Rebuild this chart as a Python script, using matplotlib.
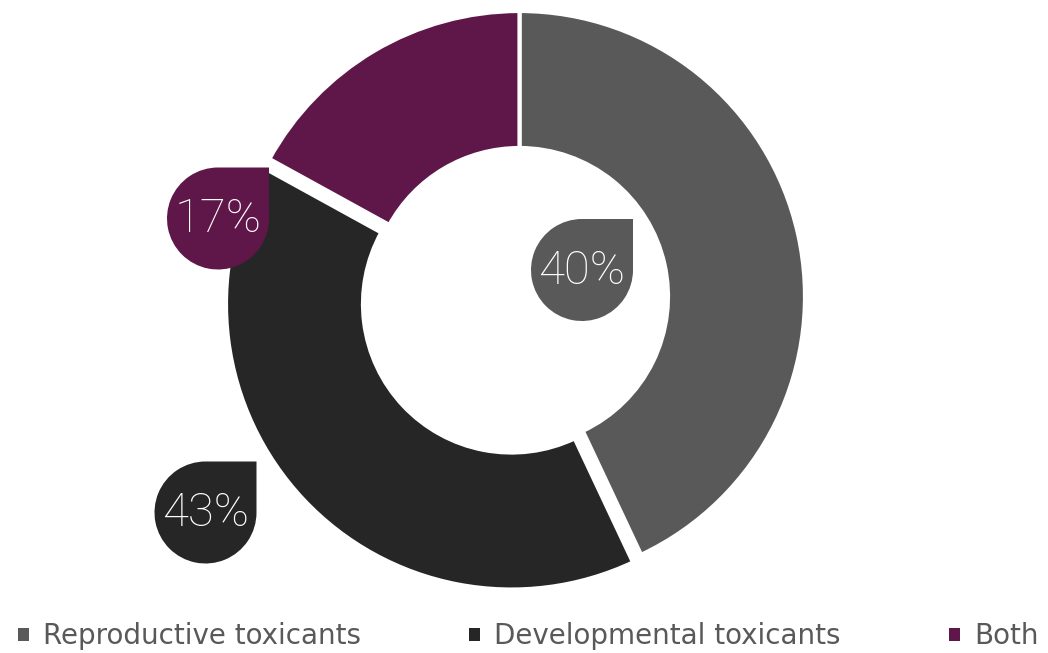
import matplotlib.pyplot as plt
from matplotlib.path import Path
from matplotlib.patches import PathPatch, Patch

# datos del grafico (tamano de los sectores)
labels = ["Reproductive toxicants", "Developmental toxicants", "Both"]
values = [43, 40, 17]
pct_labels = ["40%", "43%", "17%"]  # etiquetas tal como aparecen
colors = ["#595959", "#262626", "#5f174a"]
explode = [0, 11, 0]

W, H = 1048, 653
fig = plt.figure(figsize=(W / 100, H / 100), dpi=100)
ax = fig.add_axes([0, 0, 1, 1])

ax.pie(values, colors=colors, startangle=90, counterclock=False,
       radius=285.5, center=(519.5, H - 296.5), explode=explode,
       wedgeprops=dict(width=137, edgecolor="white", linewidth=3))
ax.set_xlim(0, W)
ax.set_ylim(0, H)
ax.set_aspect("equal")
ax.axis("off")


# etiqueta en forma de gota (circulo con esquina superior derecha cuadrada)
def drop(cx, cy, r, color):
    arc = Path.arc(90, 360)
    verts = [(cx + vx * r, cy + vy * r) for vx, vy in arc.vertices]
    codes = list(arc.codes)
    verts += [(cx + r, cy + r), (cx, cy + r)]
    codes += [Path.LINETO, Path.CLOSEPOLY]
    ax.add_patch(PathPatch(Path(verts, codes), facecolor=color, edgecolor="none", zorder=5))


label_pos = [(582, 270), (205.5, 512.5), (218, 218.5)]
for (px, py), t, c in zip(label_pos, pct_labels, colors):
    drop(px, H - py, 51, c)
    ax.text(px, H - py - 1, t, color="white", ha="center", va="center",
            fontsize=34, family=["Roboto", "DejaVu Sans"], fontweight="light", zorder=6)

handles = [Patch(facecolor=c, edgecolor="none") for c in colors]
fig.legend(handles, labels, loc="lower center", ncol=3, frameon=False,
           bbox_to_anchor=(528 / W, -0.034), handlelength=0.4, handleheight=0.32,
           handletextpad=0.5, columnspacing=3.9, labelcolor="#595959",
           prop=dict(family=["DejaVu Sans"], size=20))

fig.savefig("out.png", dpi=100)
